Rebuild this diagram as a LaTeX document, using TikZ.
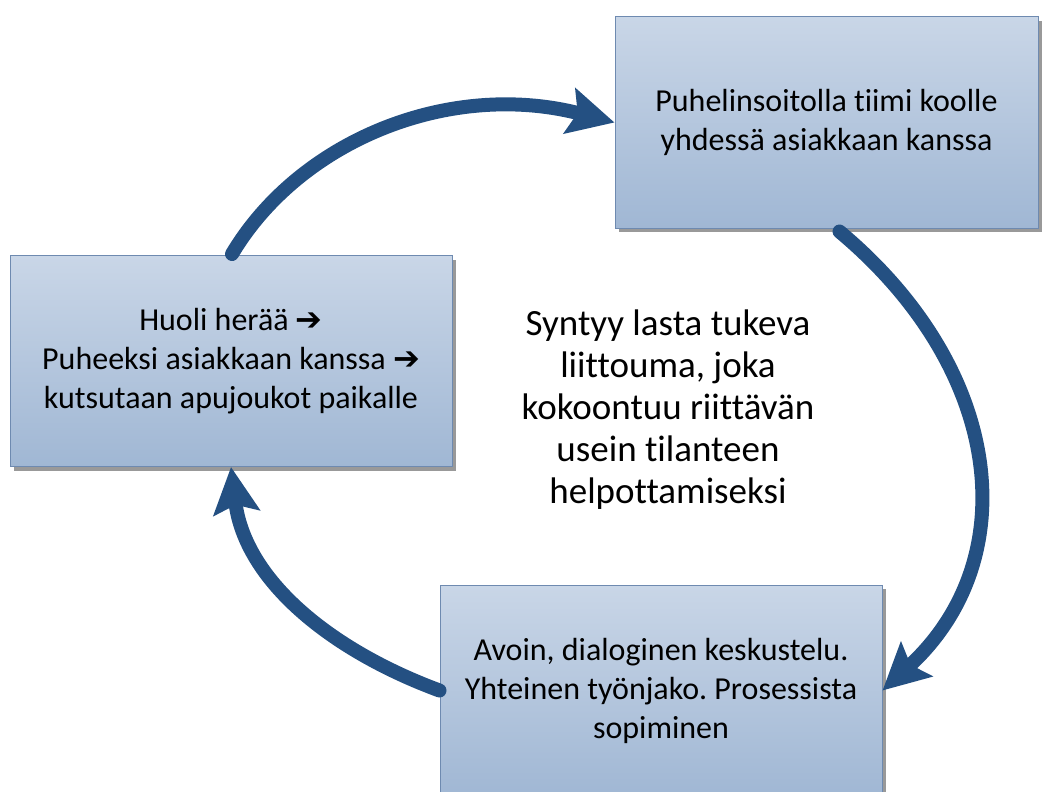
\documentclass[tikz,border=0pt]{standalone}
\usepackage{fontspec}
\setmainfont{Carlito}[Ligatures=NoCommon]
\newfontfamily\symfont{DejaVu Sans}
\usetikzlibrary{arrows.meta}
\usetikzlibrary{shadows}
\definecolor{mblue}{RGB}{36,80,130}
\definecolor{boxtop}{RGB}{201,214,231}
\definecolor{boxbottom}{RGB}{160,183,212}
\definecolor{boxline}{RGB}{110,138,176}
\newcommand{\nuoli}{{\symfont\bfseries ➔}}
\frenchspacing

\begin{document}
\begin{tikzpicture}[x=1pt, y=-1pt,
    laatikko/.style={draw=boxline, line width=1pt, top color=boxtop, bottom color=boxbottom,
      minimum width=442pt, minimum height=211pt, align=center, inner sep=0pt,
      font=\fontsize{32}{39}\selectfont,
      drop shadow={shadow xshift=4pt, shadow yshift=-4pt, fill=black!40, opacity=1}},
    kaari/.style={mblue, line width=14pt, line cap=round,
      -{Stealth[length=46pt, width=46pt, inset=8pt]}}]
  \useasboundingbox (0, 0) rectangle (1047, 792);

  \node [laatikko, minimum width=423pt] (puhelu) at (826.5, 122.5) {Puhelinsoitolla tiimi koolle\\yhdessä asiakkaan kanssa};
  \node [laatikko] (huoli) at (231, 361) {Huoli herää \nuoli\\Puheeksi asiakkaan kanssa \nuoli\\kutsutaan apujoukot paikalle};
  \node [laatikko] (keskustelu) at (661, 690.5) {Avoin, dialoginen keskustelu.\\Yhteinen työnjako. Prosessista\\sopiminen};

  \node [align=center, font=\fontsize{37}{42}\selectfont] (liittouma) at (668, 410) {Syntyy lasta tukeva\\liittouma, joka\\kokoontuu riittävän\\usein tilanteen\\helpottamiseksi};

  \draw [kaari] (huoli.north) ++(1, -1) .. controls (300, 140) and (450, 80) .. (puhelu.west);
  \draw [kaari] (puhelu.south) ++(13, 3) .. controls (1005, 370) and (1025, 560) .. (keskustelu.east);
  \draw [kaari] (keskustelu.west) .. controls (330, 650) and (245, 580) .. (huoli.south);
\end{tikzpicture}
\end{document}
